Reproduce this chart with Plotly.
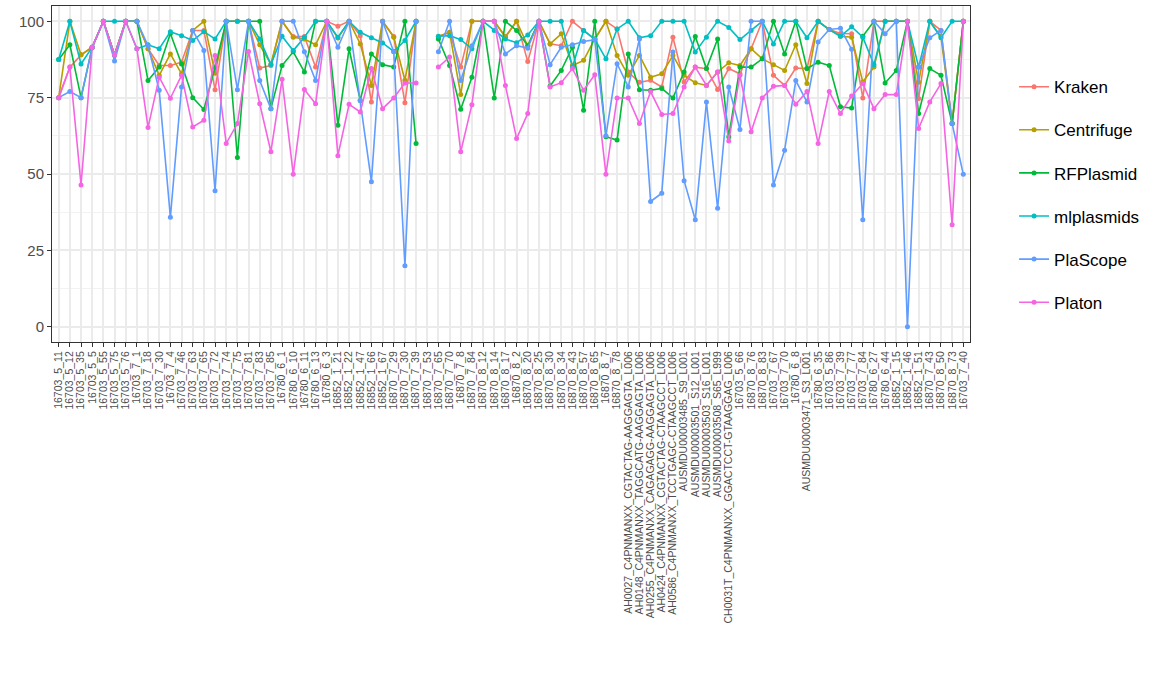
import plotly.graph_objects as go

samples = [
    "16703_5_11", "16703_5_12", "16703_5_35", "16703_5_5", "16703_5_55", "16703_5_75", "16703_5_76",
    "16703_7_1", "16703_7_18", "16703_7_30", "16703_7_4", "16703_7_46", "16703_7_63", "16703_7_65",
    "16703_7_72", "16703_7_74", "16703_7_75", "16703_7_81", "16703_7_83", "16703_7_85",
    "16780_6_1", "16780_6_10", "16780_6_11", "16780_6_13", "16780_6_3",
    "16852_1_21", "16852_1_22", "16852_1_47", "16852_1_66", "16852_1_67",
    "16870_7_29", "16870_7_30", "16870_7_39", "16870_7_53", "16870_7_65", "16870_7_70", "16870_7_8", "16870_7_84",
    "16870_8_12", "16870_8_14", "16870_8_17", "16870_8_2", "16870_8_20", "16870_8_25", "16870_8_30",
    "16870_8_34", "16870_8_43", "16870_8_57", "16870_8_65", "16870_8_7", "16870_8_78",
    "AH0027_C4PNMANXX_CGTACTAG-AAGGAGTA_L006", "AH0148_C4PNMANXX_TAGGCATG-AAGGAGTA_L006",
    "AH0255_C4PNMANXX_CAGAGAGG-AAGGAGTA_L006", "AH0424_C4PNMANXX_CGTACTAG-CTAAGCCT_L006",
    "AH0586_C4PNMANXX_TCCTGAGC-CTAAGCCT_L006",
    "AUSMDU00003485_S9_L001", "AUSMDU00003501_S12_L001", "AUSMDU00003503_S16_L001", "AUSMDU00003508_S65_L999",
    "CH0031T_C4PNMANXX_GGACTCCT-GTAAGGAG_L006",
    "16703_5_66", "16870_8_76", "16870_8_83", "16703_7_67", "16703_7_70", "16780_6_8",
    "AUSMDU00003471_S3_L001", "16780_6_35", "16703_5_86", "16703_7_39", "16703_7_77", "16703_7_84",
    "16780_6_27", "16780_6_44", "16852_1_15", "16852_1_46", "16852_1_51", "16870_7_43",
    "16870_8_50", "16870_8_73", "16703_7_40",
]

kraken = [75, 85, 89, 91.5, 100, 89, 100, 100, 91, 85.5, 85.5, 86.6, 97, 97,
          77.6, 100, 100, 100, 84.7, 85.5, 100, 95, 95, 85, 100,
          98.4, 100, 95.3, 73.6, 100, 95, 73.3, 100, None, 95, 96.4, 85, 100,
          100, 100, 95, 100, 86.8, 100, 92.6, 92, 100, 97, 94, 100, 97.5,
          83.4, 80, 80.7, 78.5, 94.8, 80.1, 85, 84.5, 77.7, 84.5,
          82.8, 91, 100, 82.3, 79, 84.7, 84.5, 100, 97.3, 96, 95.9, 74.9,
          100, 100, 100, 100, 74.7, 100, 97, 66.5, 100]
centrifuge = [75, 100, 89, 91.5, 100, 89, 100, 100, 91, 82.3, 89.3, 82.8, 97, 100,
              83, 100, 100, 100, 92.3, 86, 100, 94.8, 94.2, 92.3, 100,
              94.5, 100, 92.6, 79, 100, 94.8, 80.7, 100, None, 95, 96.4, 76, 100,
              100, 100, 94.8, 100, 92, 100, 92.6, 95.9, 85.5, 87.2, 94.2, 100, 88.8,
              82.3, 88.8, 81.7, 82.8, 88.8, 82.3, 79.9, 79, 83.4, 86.4,
              85.5, 91, 87.7, 85.8, 83.9, 92.3, 79.6, 100, 97.3, 95.1, 94.8, 80.1,
              85, 100, 100, 100, 80, 100, 95, 66.5, 100]
rfplasmid = [87.5, 92.3, 75, 91.5, 100, 89, 100, 100, 80.6, 85, 96, 86, 75, 71.1,
             85, 100, 55.4, 100, 100, 71.4, 85.5, 90, 83.4, 100, 100,
             66, 91, 74.1, 89.3, 85.8, 85, 100, 60, None, 94.2, 85.5, 71.2, 81.7,
             100, 74.9, 100, 97, 92, 100, 78.8, 83.9, 91.5, 70.9, 100, 62.2, 61.1,
             89.3, 77.6, 77.4, 78, 74.9, 83.4, 95, 84.5, 94.2, 62.2,
             85, 85, 87.7, 100, 89.3, 100, 84.5, 86.6, 85.5, 72, 71.6, 95.1,
             100, 79.8, 83.9, 100, 69.8, 84.5, 82.3, 66.5, 100]
mlplasmids = [87.5, 100, 86, 91.5, 100, 100, 100, 91, 92.3, 91, 96.6, 95.3, 93.7, 96.6,
              94.2, 100, 100, 100, 94.2, 85.8, 95.1, 90.4, 94.8, 100, 100,
              94.8, 100, 96.4, 94.6, 92.9, 90.1, 93.7, 100, None, 95.1, 95.3, 94, 91,
              100, 97, 94.2, 93, 95.5, 100, 100, 100, 85, 97, 94.2, 87.7, 97.5,
              100, 94.6, 95.3, 100, 100, 100, 89.9, 94.8, 100, 98,
              94, 97, 100, 92.6, 100, 100, 94.6, 100, 97.3, 95.1, 98.2, 94.8,
              85.8, 100, 100, 100, 85, 100, 94.6, 100, 100]
plascope = [75, 77, 75, 91.5, 100, 87, 100, 100, 92, 77.4, 35.8, 78.5, 97, 90.4,
            44.5, 100, 77.6, 100, 80.6, 71.4, 100, 100, 90, 80.6, 100,
            91.5, 100, 74.1, 47.5, 100, 90, 20, 100, None, 90, 100, 80.6, 92,
            100, 100, 89.3, 92, 91.2, 100, 85.8, 91.5, 92.3, 93.4, 94, 62.5, 86.1,
            78.5, 94.2, 41, 43.7, 89.9, 47.8, 35, 73.6, 38.8, 78.5,
            64.6, 100, 100, 46.4, 57.8, 80.6, 73.6, 93.2, 97.3, 97.7, 90.8, 35,
            100, 95.9, 100, 0, 85, 94.6, 97, 66.5, 49.9]
platon = [75, 85, 46.4, 91.5, 100, 89, 100, 91, 65.2, 81.7, 74.8, 82.3, 65.4, 67.6,
          88.8, 60, 66.5, 90.1, 73, 57.3, 81, 49.9, 77.7, 73, 100,
          56, 72.8, 70.3, 84.5, 71.4, 74.9, 79.8, 79.8, None, 85, 88.3, 57.3, 72.7,
          100, 100, 79, 61.6, 69.8, 100, 78.5, 79.9, 84.5, 77.4, 82.5, 49.9, 74.9,
          74.9, 66.5, 77, 69.5, 69.8, 78.5, 85, 79, 83.4, 60.8,
          82.3, 63.8, 74.9, 78.7, 79, 72.8, 77, 60, 77, 69.8, 75.5, 79.6,
          71.4, 76, 76, 100, 64.9, 73.6, 79.6, 33.4, 100]

tools = ["Kraken", "Centrifuge", "RFPlasmid", "mlplasmids", "PlaScope", "Platon"]
series = [kraken, centrifuge, rfplasmid, mlplasmids, plascope, platon]
colors = ["#F8766D", "#B79F00", "#00BA38", "#00BFC4", "#619CFF", "#F564E3"]

fig = go.Figure()
for name, vals, col in zip(tools, series, colors):
    fig.add_trace(go.Scatter(
        x=samples, y=vals, name=name, mode="lines+markers",
        line=dict(color=col, width=1.6),
        marker=dict(color=col, size=5),
        connectgaps=False, legendgroup=name,
    ))

fig.update_layout(
    width=1161, height=694,
    margin=dict(l=52, r=191, t=6, b=352),
    paper_bgcolor="white", plot_bgcolor="white",
    font=dict(family="Liberation Sans, Arial, sans-serif", color="#4D4D4D"),
    showlegend=True,
    legend=dict(
        x=1.048, xanchor="left", y=0.812, yanchor="top",
        font=dict(size=17, color="black"),
        tracegroupgap=18, itemwidth=30,
        bgcolor="rgba(0,0,0,0)",
    ),
)
fig.update_xaxes(
    type="category", range=[-0.6, len(samples) - 0.4],
    tickmode="array", tickvals=samples, ticktext=samples,
    tickangle=-90, tickfont=dict(size=10.5, color="#4D4D4D"),
    showgrid=True, gridcolor="#EBEBEB", gridwidth=1.6,
    ticks="outside", ticklen=4, tickcolor="#333333", tickwidth=1,
    showline=True, linecolor="#333333", linewidth=1, mirror=True,
    zeroline=False, automargin=False,
)
fig.update_yaxes(
    range=[-5, 105], tickvals=[0, 25, 50, 75, 100],
    tickfont=dict(size=15, color="#4D4D4D"),
    showgrid=True, gridcolor="#EBEBEB", gridwidth=1.6,
    minor=dict(tickvals=[12.5, 37.5, 62.5, 87.5], showgrid=True, gridcolor="#F2F2F2", gridwidth=0.8),
    ticks="outside", ticklen=4, tickcolor="#333333", tickwidth=1,
    showline=True, linecolor="#333333", linewidth=1, mirror=True,
    zeroline=False, automargin=False,
)

fig.write_html("out.html")
